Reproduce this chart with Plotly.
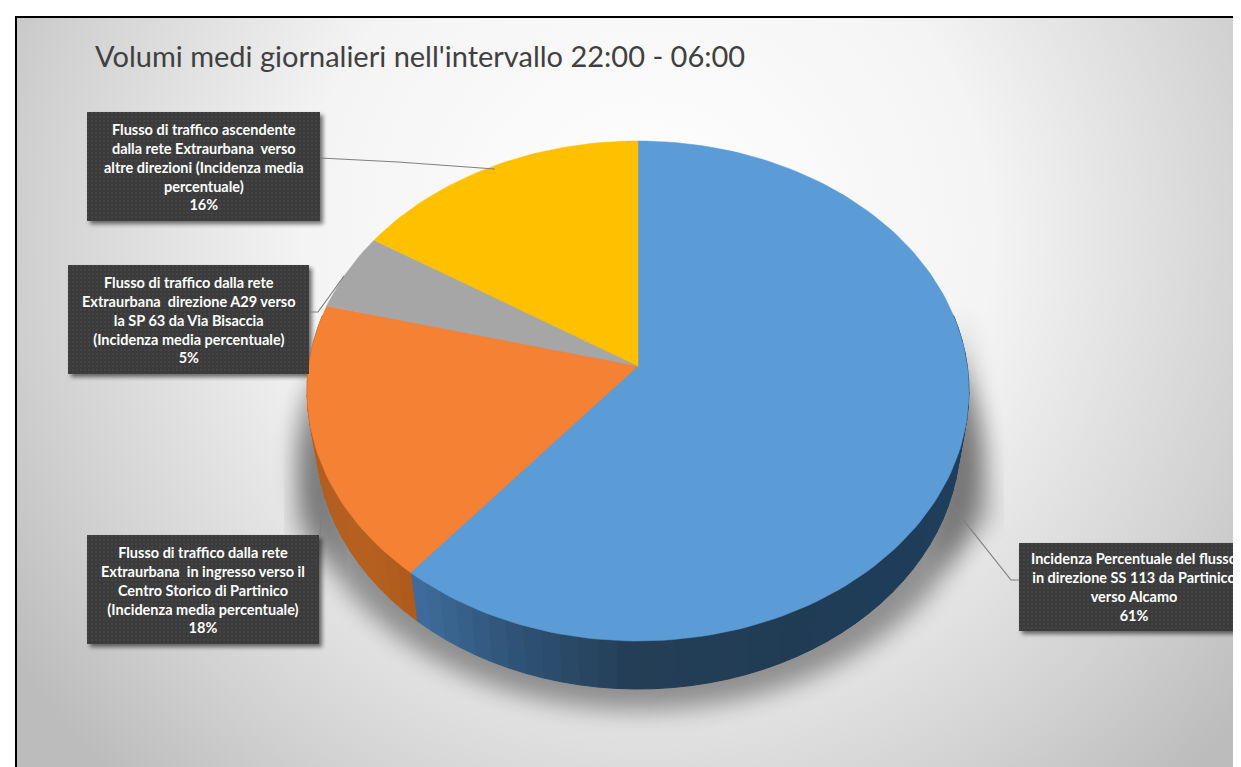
import base64
import math
import plotly.graph_objects as go

# ---- data ----
title_text = "Volumi medi giornalieri nell'intervallo 22:00 - 06:00"
categories = [
    "Incidenza Percentuale del flusso<br>in direzione SS 113 da Partinico<br>verso Alcamo",
    "Flusso di traffico dalla rete<br>Extraurbana  in ingresso verso il<br>Centro Storico di Partinico<br>(Incidenza media percentuale)",
    "Flusso di traffico dalla rete<br>Extraurbana  direzione A29 verso<br>la SP 63 da Via Bisaccia<br>(Incidenza media percentuale)",
    "Flusso di traffico ascendente<br>dalla rete Extraurbana  verso<br>altre direzioni (Incidenza media<br>percentuale)",
]
values = [61, 18, 5, 16]

# ---- styles and layout (pixels of the 1241x767 page) ----
W, H = 1241, 767
top_colors = ["#5b9bd6", "#f48134", "#a6a6a6", "#ffc000"]
wall_stops = [
    [(407, (62, 108, 155)), (500, (47, 84, 120)), (620, (36, 62, 86)), (800, (32, 60, 85)), (960, (30, 62, 92))],
    [(298, (178, 94, 32)), (360, (182, 96, 32)), (413, (170, 88, 28))],
    [(298, (110, 110, 110)), (340, (110, 110, 110))],
    [(298, (170, 128, 0)), (630, (170, 128, 0))],
]
boxes = [(1011, 535, 1241, 623), (79, 527, 311, 636), (60, 257, 301, 366), (79, 104, 312, 213)]
leaders = [
    ([1011, 1003, 942], [572, 572, 495]),
    ([312, 315], [527, 490]),
    ([301, 310, 336], [304, 304, 268]),
    ([312, 390, 487], [150, 154, 161]),
]
CX, CY, RX, RY, BEND = 630, 358, 329.3, 247.5, 0.1   # perspective of the disc
DEPTH, SHRINK = 48, 0.973


def project(theta_deg):
    t = math.radians(theta_deg)
    u, v = math.sin(t), math.cos(t)
    d = 1 + BEND * v
    return CX + RX * u / d, CY - RY * v / d


def lower(x, y):
    return CX + (x - CX) * SHRINK, y + DEPTH


def wall_color(stops, x):
    if x <= stops[0][0]:
        c = stops[0][1]
    elif x >= stops[-1][0]:
        c = stops[-1][1]
    else:
        for (x0, c0), (x1, c1) in zip(stops, stops[1:]):
            if x0 <= x <= x1:
                f = (x - x0) / (x1 - x0)
                c = tuple(round(a + (b - a) * f) for a, b in zip(c0, c1))
                break
    return "rgb(%d,%d,%d)" % tuple(c)


total = sum(values)
spans, acc = [], 0.0
for v in values:
    spans.append((acc / total * 360, (acc + v) / total * 360))
    acc += v

fig = go.Figure()

# side wall of the disc, in narrow strips for the shading
for (a0, a1), stops, cat, v in zip(spans, wall_stops, categories, values):
    a0v, a1v = max(a0, 78), min(a1, 282)
    if a1v <= a0v:
        continue
    n = max(1, int((a1v - a0v) / 3))
    for i in range(n):
        t0 = a0v + (a1v - a0v) * i / n
        t1 = a0v + (a1v - a0v) * (i + 1) / n
        p0, p1 = project(t0), project(t1)
        q0, q1 = lower(*p0), lower(*p1)
        col = wall_color(stops, (p0[0] + p1[0]) / 2)
        fig.add_trace(go.Scatter(
            x=[p0[0], p1[0], q1[0], q0[0], p0[0]],
            y=[p0[1], p1[1], q1[1], q0[1], p0[1]],
            mode="lines", fill="toself", fillcolor=col,
            line=dict(color=col, width=1), hoverinfo="skip", showlegend=False))

# top face, one polygon per slice
for (a0, a1), col, cat, v in zip(spans, top_colors, categories, values):
    n = max(4, int((a1 - a0) / 1.5))
    pts = [project(a0 + (a1 - a0) * i / n) for i in range(n + 1)]
    xs = [CX] + [p[0] for p in pts] + [CX]
    ys = [CY] + [p[1] for p in pts] + [CY]
    fig.add_trace(go.Scatter(
        x=xs, y=ys, mode="lines", fill="toself", fillcolor=col,
        line=dict(color=col, width=0.5), name=cat.replace("<br>", " "),
        hovertemplate=f"{v}%<extra></extra>", showlegend=False))

# leader lines
for lx, ly in leaders:
    fig.add_trace(go.Scatter(x=lx, y=ly, mode="lines", line=dict(color="#7f7f7f", width=1.2),
                             hoverinfo="skip", showlegend=False))

# background: radial grey, soft floor shadow, box shadows
shadow_rects = "".join(
    f'<rect x="{x0 + 3}" y="{y0 + 3}" width="{x1 - x0}" height="{y1 - y0}" fill="#000" opacity=".55" filter="url(#b2)"/>'
    for x0, y0, x1, y1 in boxes)
bg_svg = f'''<svg xmlns="http://www.w3.org/2000/svg" width="{W}" height="{H}" viewBox="0 0 {W} {H}">
<defs>
<radialGradient id="g" gradientUnits="userSpaceOnUse" cx="640" cy="230" r="760">
<stop offset="0" stop-color="#ffffff"/><stop offset=".45" stop-color="#f4f4f4"/>
<stop offset=".8" stop-color="#d2d2d2"/><stop offset="1" stop-color="#bcbcbc"/></radialGradient>
<filter id="b2" x="-20%" y="-20%" width="140%" height="140%"><feGaussianBlur stdDeviation="2"/></filter>
<filter id="b14" x="-20%" y="-20%" width="140%" height="140%"><feGaussianBlur stdDeviation="12"/></filter>
</defs>
<rect width="{W}" height="{H}" fill="#fff"/>
<rect x="9" y="9" width="{W}" height="{H}" fill="url(#g)"/>
<ellipse cx="632" cy="452" rx="342" ry="250" fill="#000" opacity=".38" filter="url(#b14)"/>
<path d="M955 300 L985 510 L930 560 Z" fill="#000" opacity=".22" filter="url(#b14)"/>
<path d="M303 370 L285 520 L330 560 Z" fill="#000" opacity=".22" filter="url(#b14)"/>
{shadow_rects}
</svg>'''
dots_svg = '''<svg xmlns="http://www.w3.org/2000/svg" width="{w}" height="{h}" viewBox="0 0 {w} {h}">
<defs><pattern id="p" width="4" height="4" patternUnits="userSpaceOnUse">
<rect width="4" height="4" fill="#3b3b3b"/><rect x="0" y="0" width="2" height="2" fill="#444444"/>
</pattern></defs><rect width="{w}" height="{h}" fill="url(#p)"/></svg>'''


def data_uri(svg):
    return "data:image/svg+xml;base64," + base64.b64encode(svg.encode()).decode()


images = [dict(source=data_uri(bg_svg), xref="x", yref="y", x=0, y=0, sizex=W, sizey=H,
               sizing="stretch", xanchor="left", yanchor="top", layer="below")]
annotations = [dict(text=title_text, x=85, y=47, xref="x", yref="y", xanchor="left", yanchor="middle",
                    showarrow=False, font=dict(family="Lato", size=29, color="#404040"))]
for (x0, y0, x1, y1), cat, v in zip(boxes, categories, values):
    images.append(dict(source=data_uri(dots_svg.format(w=x1 - x0, h=y1 - y0)), xref="x", yref="y",
                       x=x0, y=y0, sizex=x1 - x0, sizey=y1 - y0, sizing="stretch",
                       xanchor="left", yanchor="top", layer="above"))
    annotations.append(dict(text=f"{cat}<br>{v}%", x=(x0 + x1) / 2, y=(y0 + y1) / 2, xref="x", yref="y",
                            xanchor="center", yanchor="middle", align="center", showarrow=False,
                            font=dict(family="Lato", size=14.5, color="#ffffff", weight="bold")))

fig.update_layout(
    width=W, height=H, margin=dict(l=0, r=0, t=0, b=0), autosize=False,
    paper_bgcolor="#ffffff", plot_bgcolor="rgba(0,0,0,0)", showlegend=False,
    xaxis=dict(range=[0, W], visible=False, fixedrange=True),
    yaxis=dict(range=[H, 0], visible=False, fixedrange=True),
    images=images, annotations=annotations,
    shapes=[
        dict(type="line", x0=8, x1=W, y0=9, y1=9, xref="x", yref="y", line=dict(color="#000", width=2)),
        dict(type="line", x0=8, x1=8, y0=8, y1=H, xref="x", yref="y", line=dict(color="#000", width=2)),
    ],
)
fig.write_html("out.html", config=dict(displayModeBar=False))
